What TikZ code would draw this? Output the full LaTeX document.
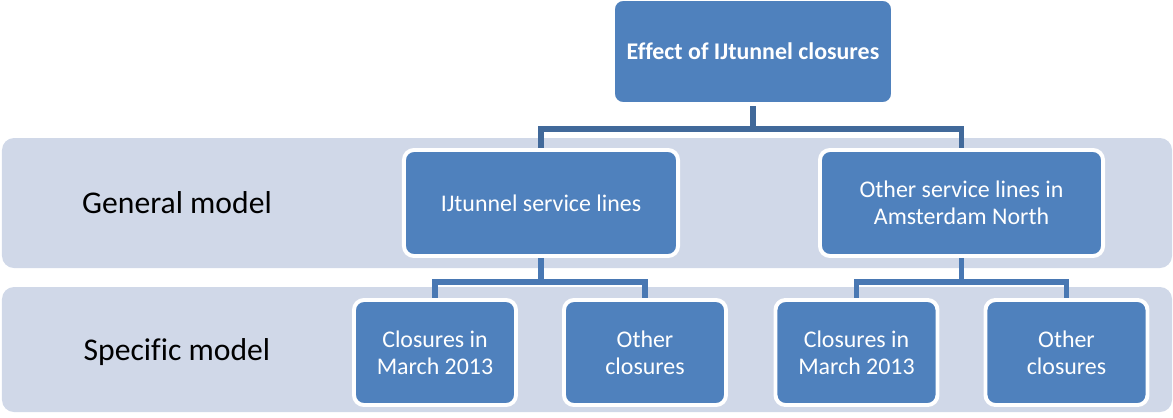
\documentclass[tikz,border=0pt]{standalone}
\usepackage{fontspec}
\setmainfont{Carlito}[Ligatures=CommonOff]
\usetikzlibrary{backgrounds}
\definecolor{acc}{HTML}{4F81BD}
\definecolor{bnd}{HTML}{D0D8E8}
\definecolor{lnA}{HTML}{41699A}
\definecolor{lnB}{HTML}{4978B3}

\begin{document}
\begin{tikzpicture}[x=0.025cm,y=-0.025cm]

\tikzstyle{blu}=[draw=white,line width=2.8pt,fill=acc,rounded corners=0.25cm,text=white,align=center,inner sep=0pt,font=\fontsize{17}{19.5}\selectfont]
\tikzstyle{band}=[fill=bnd,rounded corners=0.3cm]
\tikzstyle{lbl}=[font=\fontsize{22.5}{27}\selectfont]
\tikzstyle{lnk}=[line width=3.9pt,join=miter]

\useasboundingbox (0,0) rectangle (1173,417);

\node[blu,minimum width=7cm,minimum height=2.625cm,font=\bfseries\fontsize{17}{19.5}\selectfont] (top) at (753,51.5) {Effect of IJtunnel closures};

\node[blu,minimum width=6.85cm,minimum height=2.65cm] (gl) at (541,203) {IJtunnel service lines};
\node[blu,minimum width=7.075cm,minimum height=2.65cm] (gr) at (961.5,203) {Other service lines in\\Amsterdam North};

\node[blu,minimum width=4.05cm,minimum height=2.625cm] (sl1) at (435,352.5) {Closures in\\March 2013};
\node[blu,minimum width=4.05cm,minimum height=2.625cm] (sl2) at (645,352.5) {Other\\closures};
\node[blu,minimum width=4.05cm,minimum height=2.625cm] (sr1) at (856.5,352.5) {Closures in\\March 2013};
\node[blu,minimum width=4.05cm,minimum height=2.625cm] (sr2) at (1066.5,352.5) {Other\\closures};

\node[lbl] (gm) at (177,203) {General model};
\node[lbl] (sm) at (177,352) {Specific model};

\begin{pgfonlayer}{background}
\fill[band] (2,138) rectangle (1172,268);
\fill[band] (2,287) rectangle (1172,412);

\draw[lnk,lnA] (top.south) -- ++(0,23) coordinate (j0) -| (gl.north);
\draw[lnk,lnA] (j0) -| (gr.north);

\draw[lnk,lnB] (gl.south) -- ++(0,24) coordinate (j1) -| (sl1.north);
\draw[lnk,lnB] (j1) -| (sl2.north);
\draw[lnk,lnB] (gr.south) -- ++(0,24) coordinate (j2) -| (sr1.north);
\draw[lnk,lnB] (j2) -| (sr2.north);
\end{pgfonlayer}

\end{tikzpicture}
\end{document}
